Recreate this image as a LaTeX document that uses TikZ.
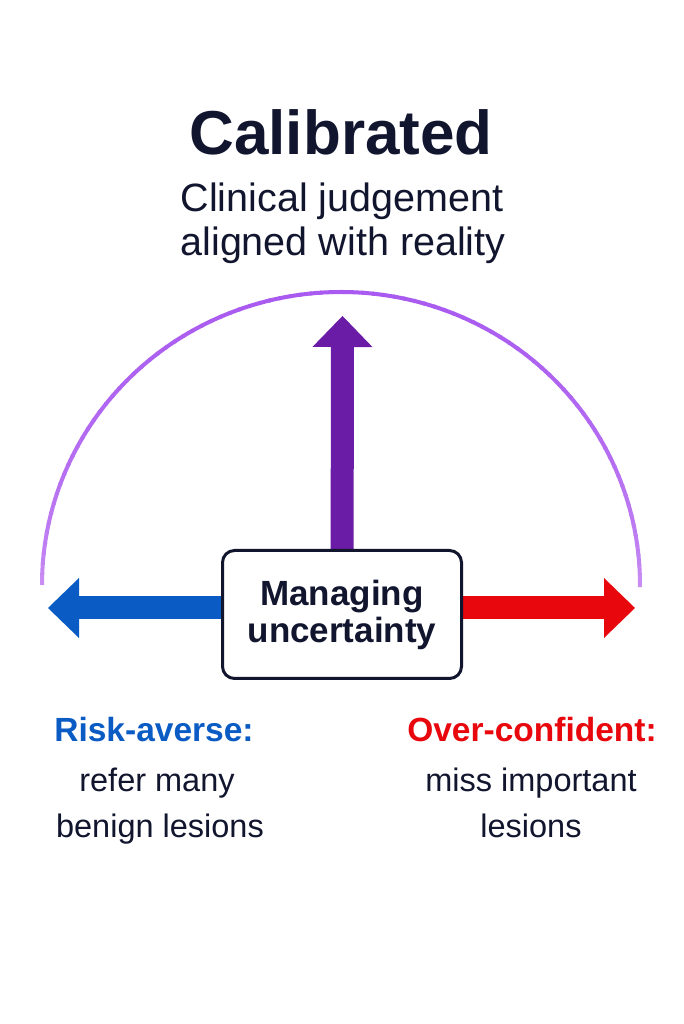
\documentclass[tikz,border=0pt]{standalone}
\usepackage{fontspec}
\setmainfont{Liberation Sans}
\usetikzlibrary{arrows.meta,calc}
\pgfdeclarelayer{paper}
\pgfdeclarelayer{bg}
\pgfsetlayers{paper,bg,main}

\definecolor{ink}{HTML}{11152E}
\definecolor{riskblue}{HTML}{0A5BC4}
\definecolor{overred}{HTML}{E8070D}
\definecolor{calpurple}{HTML}{6A1CA6}
\definecolor{arctop}{HTML}{A95AF0}
\definecolor{arcend}{HTML}{CD94F3}

\begin{document}
\begin{tikzpicture}[x=1pt,y=1pt,
  lbl/.style={inner sep=0pt, anchor=base, text=ink},
  titletext/.style={lbl, font=\bfseries\fontsize{62}{62}\selectfont},
  subtext/.style={lbl, font=\fontsize{39.5}{39.5}\selectfont},
  headtext/.style={lbl, font=\bfseries\fontsize{33.5}{33.5}\selectfont},
  bodytext/.style={lbl, font=\fontsize{32.5}{32.5}\selectfont},
  centrebox/.style={draw=ink, line width=3pt, rounded corners=12pt, fill=white,
    minimum width=239pt, minimum height=128pt, align=center, text=ink,
    font=\bfseries\fontsize{35}{37}\selectfont},
  fatarrow/.style={line width=23pt, line cap=butt,
    -{Triangle[length=31pt, width=60pt, line width=0pt]}}
]
\useasboundingbox (0,0) rectangle (683,1024);
\begin{pgfonlayer}{paper}
  \fill[white] (0,0) rectangle (683,1024);
\end{pgfonlayer}

% heading
\node[titletext] (title) at (341,869) {Calibrated};
\node[subtext] (sub1) at (342,812) {Clinical judgement};
\node[subtext] (sub2) at (343,768) {aligned with reality};

% the arc spanning the two extremes, lighter towards its ends
\coordinate (arcL) at (42,439);
\foreach \a in {0,2,...,178}{
  \pgfmathsetmacro\m{100*sqrt(sin(\a+1))}
  \draw[line width=4pt, color=arctop!\m!arcend]
    ($(341,439)+({180-\a}:299pt and 293pt)$)
    arc[start angle={180-\a}, end angle={178-\a-0.4}, x radius=299pt, y radius=293pt];
}

% centre box
\node[centrebox] (box) at (342,409.5) {Managing\\uncertainty};

% arrow ends
\coordinate (uptip) at (342.5,708);
\coordinate (lefttip) at (48,416);
\coordinate (righttip) at (635,416);

\begin{pgfonlayer}{bg}
  \draw[fatarrow, calpurple] (box.center) -- (uptip);
  \draw[fatarrow, riskblue] (box.center |- lefttip) -- (lefttip);
  \draw[fatarrow, overred] (box.center |- righttip) -- (righttip);
\end{pgfonlayer}

% the two extremes
\node[headtext, text=riskblue] (riskhead) at (154,282) {Risk-averse:};
\node[bodytext] (risk1) at (157,232) {refer many};
\node[bodytext] (risk2) at (160,186) {benign lesions};

\node[headtext, text=overred] (overhead) at (532,282) {Over-confident:};
\node[bodytext] (over1) at (531,232) {miss important};
\node[bodytext] (over2) at (531,186) {lesions};
\end{tikzpicture}
\end{document}
